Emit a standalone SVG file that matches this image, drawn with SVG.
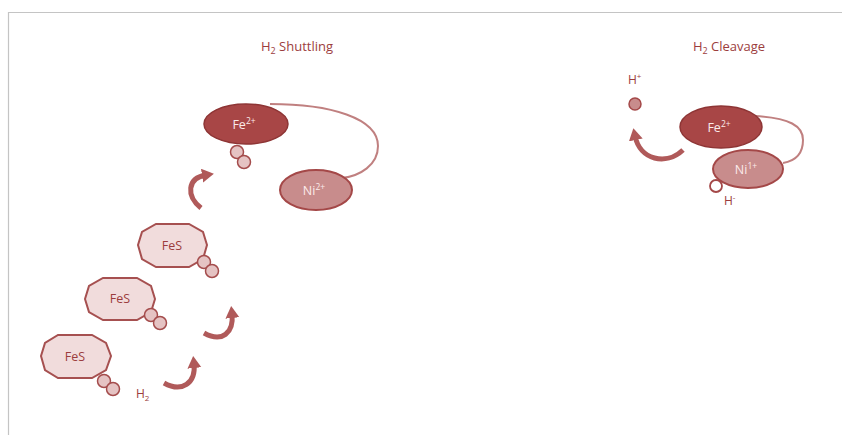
<svg xmlns="http://www.w3.org/2000/svg" width="842" height="435" viewBox="0 0 842 435">
  <defs>
    <marker id="head" markerUnits="userSpaceOnUse" markerWidth="16" markerHeight="16" refX="4" refY="7" orient="auto">
      <path d="M0,0 L12,7 L0,14 Z" fill="#b05a5a"/>
    </marker>
    <style>
      text { font-family: "Open Sans", "Liberation Sans", Arial, sans-serif; }
      .title { font-size: 13px; fill: #9c3d3d; text-anchor: middle; }
      .lbl { font-size: 12px; fill: #9c3d3d; }
      .ion { font-size: 12.5px; fill: #fbeaea; text-anchor: middle; }
      .fes-t { font-size: 12.5px; fill: #9c3d3d; text-anchor: middle; }
      .fe { fill: #a84646; stroke: #8e3535; stroke-width: 1.5; }
      .ni { fill: #c88c8c; stroke: #a44848; stroke-width: 2; }
      .fes { fill: #f1dcdc; stroke: #a65050; stroke-width: 2; }
      .atom { fill: #e5c3c3; stroke: #a44c4c; stroke-width: 1.5; }
      .hp { fill: #c88c8c; stroke: #a44848; stroke-width: 1.5; }
      .hm { fill: #ffffff; stroke: #a44848; stroke-width: 1.8; }
      .link { fill: none; stroke: #c08080; stroke-width: 2; }
      .arrow { fill: none; stroke: #b05a5a; stroke-width: 5; marker-end: url(#head); }
      .frame { fill: none; stroke: #c4c4c4; stroke-width: 1.2; }
    </style>
  </defs>

  <!-- outer frame -->
  <path class="frame" d="M8.5,435 V12.5 H842"/>

  <!-- section headings -->
  <text class="title" x="297" y="51">H<tspan font-size="9" dy="3">2</tspan><tspan dy="-3"> Shuttling</tspan></text>
  <text class="title" x="729" y="51">H<tspan font-size="9" dy="3">2</tspan><tspan dy="-3"> Cleavage</tspan></text>

  <!-- connectors -->
  <g id="connectors">
    <path class="link" d="M270,104 C330,104 378,118 378,146 C378,165 360,176 342,178"/>
    <path class="link" d="M755,116 C790,118 803,126 803,140 C803,155 795,161 783,163"/>
    <path class="arrow" d="M201,208 C186,196 187,178 206,175"/>
    <path class="arrow" d="M204,333 C222,343 234,333 232,314"/>
    <path class="arrow" d="M164,383 C182,393 196,383 194,364"/>
    <path class="arrow" d="M683,150 C666,166 640,160 635,136"/>
  </g>

  <!-- H2 shuttling side -->
  <g id="fe-shuttle">
    <ellipse class="fe" cx="246" cy="124" rx="42" ry="20"/>
    <text class="ion" x="244" y="129">Fe<tspan font-size="8.5" dy="-5">2+</tspan></text>
  </g>
  <g id="ni-shuttle">
    <ellipse class="ni" cx="316" cy="190" rx="36" ry="20"/>
    <text class="ion" x="314" y="195">Ni<tspan font-size="8.5" dy="-5">2+</tspan></text>
  </g>
  <g id="h2-fe">
    <circle class="atom" cx="237" cy="152" r="6.5"/>
    <circle class="atom" cx="244" cy="162" r="6.5"/>
  </g>

  <g id="fes-1">
    <polygon class="fes" points="156,224 189,224 203,232 207,245 203,259 189,267 156,267 142,259 138,245 142,232"/>
    <text class="fes-t" x="172" y="250">FeS</text>
    <circle class="atom" cx="204" cy="262" r="6.5"/>
    <circle class="atom" cx="212" cy="271" r="6.5"/>
  </g>
  <g id="fes-2">
    <polygon class="fes" points="103,278 137,278 151,286 155,299 151,312 137,320 103,320 89,312 85,299 89,286"/>
    <text class="fes-t" x="120" y="303">FeS</text>
    <circle class="atom" cx="151" cy="315" r="6.5"/>
    <circle class="atom" cx="160" cy="323" r="6.5"/>
  </g>
  <g id="fes-3">
    <polygon class="fes" points="58,335 92,335 106,343 111,356 106,370 92,378 58,378 45,370 41,356 45,343"/>
    <text class="fes-t" x="75" y="361">FeS</text>
    <circle class="atom" cx="104" cy="381" r="6.5"/>
    <circle class="atom" cx="113" cy="389" r="6.5"/>
  </g>
  <g id="h2-label">
    <text class="lbl" x="136" y="398">H<tspan font-size="8" dy="3">2</tspan></text>
  </g>

  <!-- H2 cleavage side -->
  <g id="proton">
    <text class="lbl" x="628" y="84">H<tspan font-size="8" dy="-5">+</tspan></text>
    <circle class="hp" cx="635" cy="104" r="6"/>
  </g>
  <g id="fe-cleave">
    <ellipse class="fe" cx="721" cy="127" rx="41" ry="21"/>
    <text class="ion" x="719" y="132">Fe<tspan font-size="8.5" dy="-5">2+</tspan></text>
  </g>
  <g id="ni-cleave">
    <ellipse class="ni" cx="748" cy="169" rx="35" ry="19"/>
    <text class="ion" x="746" y="174">Ni<tspan font-size="8.5" dy="-5">1+</tspan></text>
  </g>
  <g id="hydride">
    <circle class="hm" cx="716" cy="186" r="6"/>
    <text class="lbl" x="724" y="205">H<tspan font-size="8" dy="-5">-</tspan></text>
  </g>
</svg>
